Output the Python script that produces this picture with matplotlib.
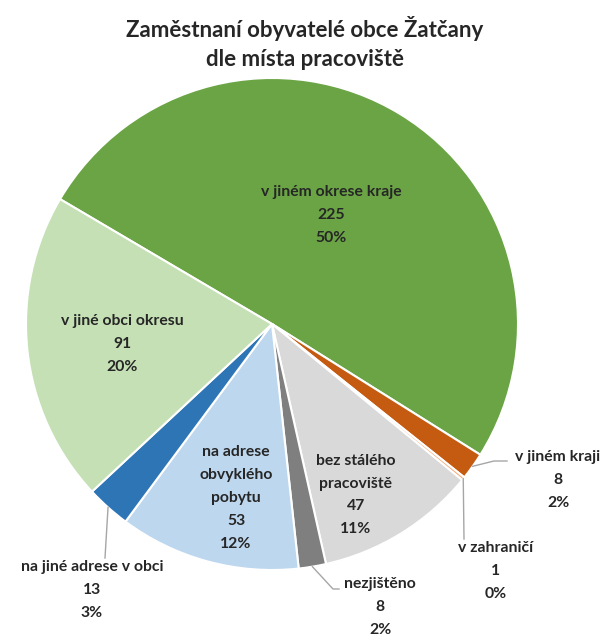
"""
Pie chart: employed residents of Zatcany by place of work.
Saves the figure as out.png.
"""

import numpy as np
import matplotlib.pyplot as plt

# data, in clockwise order starting with the big slice
categories = [
    "v jiném okrese kraje",
    "v jiném kraji",
    "v zahraničí",
    "bez stálého\npracoviště",
    "nezjištěno",
    "na adrese\nobvyklého\npobytu",
    "na jiné adrese v obci",
    "v jiné obci okresu",
]
counts = [225, 8, 1, 47, 8, 53, 13, 91]
colors = ["#6aa444", "#c55a11", "#f4b183", "#d9d9d9",
          "#7f7f7f", "#bdd7ee", "#2e75b6", "#c5e0b4"]

TITLE = "Zaměstnaní obyvatelé obce Žatčany\ndle místa pracoviště"

W, H = 609, 637
CX, CY, R = 272, H - 324, 246
START = 149.5
TEXT = "#262626"
LINE = "#a6a6a6"

# label centres in pixel coords (x, y from top)
label_pos = [
    (331, 215),
    (558, 480),
    (496, 571),
    (356, 495),
    (380, 607),
    (236, 498),
    (92, 590),
    (122, 344),
]
# leader line bends (pixel coords) for outside labels, after the wedge point
leaders = {
    1: [(494, 461), (507, 461)],
    2: [(464, 539)],
    4: [(333, 589), (339, 589)],
    6: [(105, 558)],
}


def main() -> None:
    plt.rcParams["font.family"] = ["Lato", "DejaVu Sans"]
    fig = plt.figure(figsize=(W / 100, H / 100), dpi=100)
    ax = fig.add_axes([0, 0, 1, 1])

    wedges, _ = ax.pie(
        counts, colors=colors, startangle=START, counterclock=False,
        center=(CX, CY), radius=R, frame=True,
        wedgeprops=dict(edgecolor="white", linewidth=1.5),
    )
    ax.set_xlim(0, W)
    ax.set_ylim(0, H)
    ax.axis("off")

    total = sum(counts)
    for i, (name, n) in enumerate(zip(categories, counts)):
        pct = round(100 * n / total)
        x, y = label_pos[i]
        ax.text(x, H - y, f"{name}\n{n}\n{pct}%", ha="center", va="center",
                fontsize=11.3, fontweight="bold", color=TEXT, linespacing=1.8)
        if i in leaders:
            w = wedges[i]
            mid = np.deg2rad((w.theta1 + w.theta2) / 2)
            pts = [(CX + R * np.cos(mid), CY + R * np.sin(mid))]
            pts += [(px, H - py) for px, py in leaders[i]]
            xs, ys = zip(*pts)
            ax.plot(xs, ys, color=LINE, linewidth=1)

    fig.text(0.5, 1 - 43 / H, TITLE, ha="center", va="center", fontsize=16,
             fontweight="bold", color=TEXT, linespacing=1.43)

    fig.savefig("out.png", dpi=100)


if __name__ == "__main__":
    main()
